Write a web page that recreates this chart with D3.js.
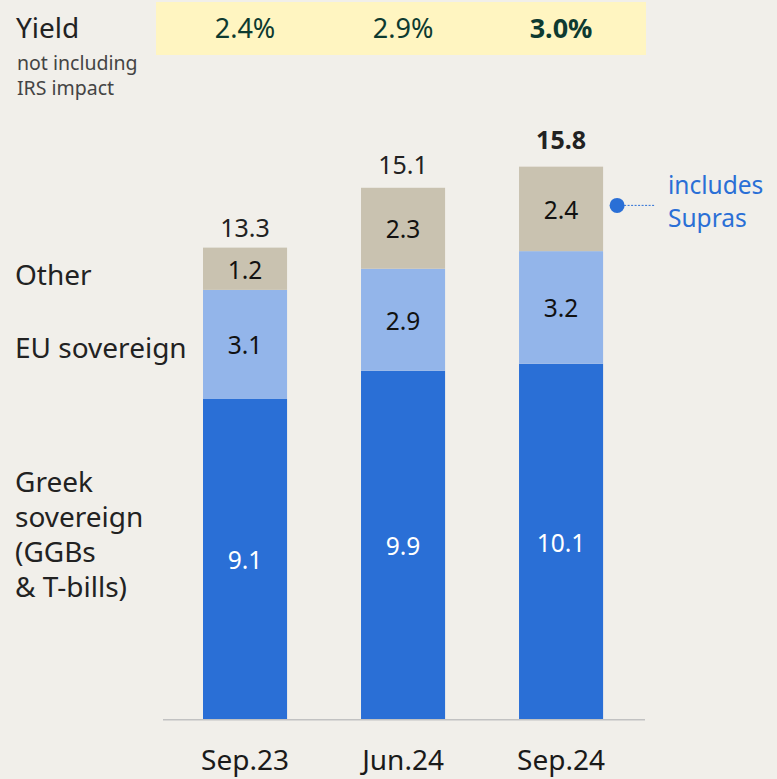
<!DOCTYPE html>
<html>
<head>
<meta charset="utf-8">
<script src="https://cdn.jsdelivr.net/npm/d3@7"></script>
<style>
  html, body { margin: 0; padding: 0; background: #f1efea; }
  svg { display: block; font-family: "Noto Sans", "Open Sans", sans-serif; }
</style>
</head>
<body>
<svg id="chart" width="777" height="779"></svg>
<script>
// Bond portfolio composition (€bn) by period
const periods = ["Sep.23", "Jun.24", "Sep.24"];
const greekSovereign = [9.1, 9.9, 10.1];
const euSovereign = [3.1, 2.9, 3.2];
const other = [1.2, 2.3, 2.4];
const totals = [13.3, 15.1, 15.8];
const yields = ["2.4%", "2.9%", "3.0%"];
const seriesNames = ["Greek sovereign", "EU sovereign", "Other"];

const colors = { "Greek sovereign": "#2a6fd6", "EU sovereign": "#93b5ea", "Other": "#c9c2b0" };
const labelColors = { "Greek sovereign": "#ffffff", "EU sovereign": "#111111", "Other": "#111111" };

const rows = periods.map((p, i) => ({
  period: p,
  "Greek sovereign": greekSovereign[i],
  "EU sovereign": euSovereign[i],
  "Other": other[i],
  total: totals[i],
  yield: yields[i]
}));

const svg = d3.select("#chart");

const x = d3.scaleBand().domain(periods).range([124, 682.1]).paddingInner(0.468).paddingOuter(0.5);
const baseY = 719.3;
const y = d3.scaleLinear().domain([0, 15.8]).range([baseY, baseY - 15.8 * 35.2]);

// Yield band
svg.append("rect").attr("x", 156).attr("y", 2).attr("width", 490).attr("height", 53).attr("fill", "#fff5c1");

svg.append("text").attr("x", 16).attr("y", 38).attr("font-size", 28).attr("fill", "#222").text("Yield");
svg.append("text").attr("x", 17).attr("y", 70).attr("font-size", 19.5).attr("fill", "#444").text("not including");
svg.append("text").attr("x", 17).attr("y", 95).attr("font-size", 19.5).attr("fill", "#444").text("IRS impact");

svg.selectAll("text.yield").data(rows).join("text")
  .attr("class", "yield")
  .attr("x", d => x(d.period) + x.bandwidth() / 2)
  .attr("y", 38)
  .attr("text-anchor", "middle")
  .attr("font-size", 27)
  .attr("font-weight", (d, i) => i === rows.length - 1 ? 700 : 400)
  .attr("fill", "#0d3a30")
  .text(d => d.yield);

// Stacked bars
const stack = d3.stack().keys(seriesNames)(rows);
const layers = svg.selectAll("g.layer").data(stack).join("g").attr("class", "layer")
  .attr("fill", d => colors[d.key]);

layers.selectAll("rect").data(d => d).join("rect")
  .attr("x", d => x(d.data.period))
  .attr("y", d => y(d[1]))
  .attr("width", x.bandwidth())
  .attr("height", d => y(d[0]) - y(d[1]));

stack.forEach(layer => {
  svg.selectAll(null).data(layer).join("text")
    .attr("x", d => x(d.data.period) + x.bandwidth() / 2)
    .attr("y", d => (y(d[0]) + y(d[1])) / 2 + 10)
    .attr("text-anchor", "middle")
    .attr("font-size", 24.5)
    .attr("fill", labelColors[layer.key])
    .text(d => (d[1] - d[0]).toFixed(1));
});

// Totals above bars
svg.selectAll("text.total").data(rows).join("text")
  .attr("class", "total")
  .attr("x", d => x(d.period) + x.bandwidth() / 2)
  .attr("y", d => y(d.total) - 14)
  .attr("text-anchor", "middle")
  .attr("font-size", 25)
  .attr("font-weight", (d, i) => i === rows.length - 1 ? 700 : 400)
  .attr("fill", "#222")
  .text(d => d.total.toFixed(1));

// Baseline
svg.append("line").attr("x1", 163).attr("x2", 645).attr("y1", baseY + 0.5).attr("y2", baseY + 0.5)
  .attr("stroke", "#c2c2c2").attr("stroke-width", 1.5);

// Category axis
const xAxis = svg.append("g").attr("transform", `translate(0,${baseY})`)
  .call(d3.axisBottom(x).tickSize(0).tickPadding(0));
xAxis.select(".domain").remove();
xAxis.selectAll("text").attr("font-size", 28).attr("fill", "#1a1a1a")
  .attr("dy", 0).attr("y", 51)
  .attr("font-family", "'Noto Sans', 'Open Sans', sans-serif");

// Series labels on the left
const leftLabels = [
  { lines: ["Other"], y: 285 },
  { lines: ["EU sovereign"], y: 358 },
  { lines: ["Greek", "sovereign", "(GGBs", "& T-bills)"], y: 492 }
];
leftLabels.forEach(l => {
  const t = svg.append("text").attr("x", 15).attr("y", l.y).attr("font-size", 28).attr("fill", "#222");
  l.lines.forEach((line, i) => {
    t.append("tspan").attr("x", 15).attr("dy", i === 0 ? 0 : 35).text(line);
  });
});

// Annotation on the last bar's top segment
const last = rows[rows.length - 1];
const annY = (y(last.total) + y(last.total - last.Other)) / 2;
const annX = x(last.period) + x.bandwidth() + 14;
svg.append("line").attr("x1", annX).attr("x2", annX + 38).attr("y1", annY).attr("y2", annY)
  .attr("stroke", "#2a6fd6").attr("stroke-width", 1).attr("stroke-dasharray", "2,1.5");
svg.append("circle").attr("cx", annX).attr("cy", annY).attr("r", 7.5).attr("fill", "#2a6fd6");
const ann = svg.append("text").attr("x", 668).attr("y", annY - 11).attr("font-size", 24.5).attr("fill", "#2a6fd6");
ann.append("tspan").attr("x", 668).attr("dy", 0).text("includes");
ann.append("tspan").attr("x", 668).attr("dy", 33).text("Supras");
</script>
</body>
</html>
